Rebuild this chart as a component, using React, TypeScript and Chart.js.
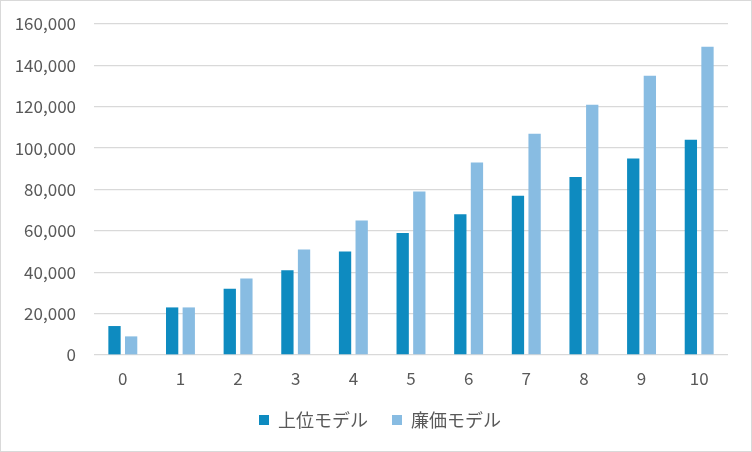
import React, { useEffect, useRef } from 'react';
import { Chart, registerables } from 'chart.js';

Chart.register(...registerables);

const categories = ['0', '1', '2', '3', '4', '5', '6', '7', '8', '9', '10'];
const premiumModel = [14000, 23000, 32000, 41000, 50000, 59000, 68000, 77000, 86000, 95000, 104000];
const budgetModel = [9000, 23000, 37000, 51000, 65000, 79000, 93000, 107000, 121000, 135000, 149000];
const seriesNames = ['上位モデル', '廉価モデル'];

const FONT = '"Noto Sans CJK JP", "Noto Sans", sans-serif';
const TEXT = '#595959';

const App: React.FC = () => {
  const canvasRef = useRef<HTMLCanvasElement | null>(null);

  useEffect(() => {
    document.body.style.margin = '0';
    const ctx = canvasRef.current?.getContext('2d');
    if (!ctx) return;

    const chart = new Chart(ctx, {
      type: 'bar',
      data: {
        labels: categories,
        datasets: [
          {
            label: seriesNames[0],
            data: premiumModel,
            backgroundColor: '#0E8BC0',
            categoryPercentage: 0.577,
            barPercentage: 0.74,
          },
          {
            label: seriesNames[1],
            data: budgetModel,
            backgroundColor: '#88BCE2',
            categoryPercentage: 0.577,
            barPercentage: 0.74,
          },
        ],
      },
      options: {
        responsive: false,
        animation: false,
        layout: { padding: { left: 8, right: 0, top: 24, bottom: 13 } },
        plugins: {
          tooltip: { enabled: false },
          legend: {
            position: 'bottom',
            labels: {
              boxWidth: 10,
              boxHeight: 10,
              padding: 24,
              color: TEXT,
              font: { family: FONT, size: 18 },
            },
          },
        },
        scales: {
          x: {
            grid: { display: false },
            border: { display: false },
            ticks: { color: TEXT, font: { family: FONT, size: 17 }, padding: 5 },
            afterFit: (s: any) => {
              s.height = 32;
            },
          },
          y: {
            min: 0,
            max: 160000,
            grid: { color: '#D9D9D9', lineWidth: 1.3, drawTicks: false },
            border: { display: false },
            ticks: {
              stepSize: 20000,
              color: TEXT,
              font: { family: FONT, size: 17 },
              padding: 18,
              callback: (v: any) => Number(v).toLocaleString('en-US'),
            },
            afterFit: (s: any) => {
              s.width = 86;
              s.paddingTop = 10;
              s.paddingBottom = 10;
            },
          },
          yRight: {
            position: 'right',
            grid: { display: false },
            border: { display: false },
            ticks: { display: false },
            afterFit: (s: any) => {
              s.width = 24;
            },
          },
        },
      },
    });

    return () => {
      chart.destroy();
    };
  }, []);

  return (
    <div style={{ position: 'relative', width: 752, height: 452, background: '#fff' }}>
      <canvas ref={canvasRef} width={752} height={452} />
      <div
        style={{
          position: 'absolute',
          left: 0,
          top: 0,
          width: 752,
          height: 452,
          boxSizing: 'border-box',
          border: '1.5px solid #D9D9D9',
          pointerEvents: 'none',
        }}
      />
    </div>
  );
};

export default App;
